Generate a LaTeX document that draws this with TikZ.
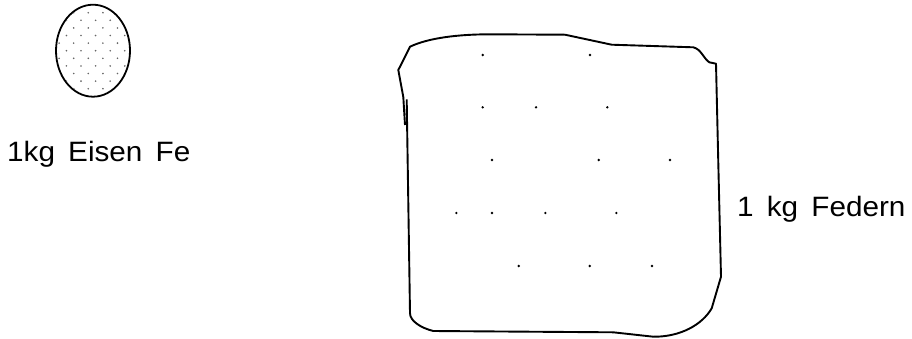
\documentclass[tikz,border=0pt]{standalone}
\usepackage{fontspec}
\setmainfont{Liberation Sans}
\newfontfamily\labelfont[FakeStretch=1.06, WordSpace=1.6]{Liberation Sans}
\usetikzlibrary{positioning, shapes.geometric}

\begin{document}
\begin{tikzpicture}[
    x=1pt, y=-1pt,
    caption/.style={
        font=\labelfont\fontsize{28}{32}\selectfont,
        inner sep=0pt, anchor=base west
    },
    lump/.style={
        draw, ellipse, line width=1.8pt,
        minimum width=74pt, minimum height=92pt,
        inner sep=0pt
    },
    outline/.style={line width=1.9pt, line join=round},
    speck/.style={fill=black},
    grain/.style={fill=black!60}
]
\useasboundingbox (0,0) rectangle (912,338);

% ===================== IRON =====================
\node[lump] (iron) at (93,50.7) {};
\begin{scope}
  \clip (iron.center) ellipse (36pt and 45pt);
  \foreach \j in {0,...,10}
    \foreach \k in {-5,...,6}{
      \pgfmathtruncatemacro{\parity}{mod(\j+\k+20,2)}
      \ifnum\parity=0
        \fill[grain] ({88.3+7.3*\k},{12.7+7.6*\j}) circle (0.9pt);
      \fi
    }
\end{scope}

\node[caption] (eisen) at (7,161.7) {1kg Eisen Fe};

% ===================== FEATHERS =====================
\draw[outline]
  (405,125) -- (403.3,97) -- (398.3,70) -- (410,46.7)
  .. controls (428,38) and (458,34.3) .. (490,34.3)
  -- (565,34.7) -- (611.7,44.7) -- (693.3,47.3)
  .. controls (701,49) and (704,59) .. (709.3,62.3)
  -- (716,63.7) -- (718.3,163.3) -- (721,276.7) -- (711.7,308.3)
  .. controls (702,325) and (680,337) .. (653.3,336.7)
  -- (613.3,332.3) -- (433.3,331)
  .. controls (421,328) and (410,321) .. (410,313.3)
  -- (406.7,99.3);

% loose feathers
\foreach \px/\py in {482.7/55, 590/55,
    482.7/107.3, 536/107.3, 607.3/107.3,
    492/160, 598.7/160, 670/160,
    456.3/213, 492/213, 545.3/213, 616.3/213,
    518.7/266, 589.7/266, 652/266}
  \fill[speck] (\px,\py) circle (1.3pt);

\node[caption] (federn) at (737,216.7) {1 kg Federn};

\end{tikzpicture}
\end{document}
